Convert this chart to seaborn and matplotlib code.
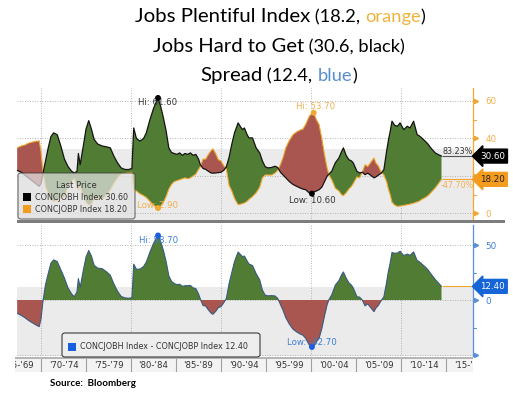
import numpy as np
import pandas as pd
import matplotlib
matplotlib.use("Agg")
import matplotlib.pyplot as plt
import seaborn as sns
from matplotlib.patches import FancyBboxPatch, Rectangle
import matplotlib.transforms as mtransforms

# ---------------- data ----------------
years = [1967.35, 1967.8, 1968.2, 1968.6, 1969.0, 1969.4, 1969.8, 1970.0, 1970.2, 1970.5,
         1970.8, 1971.1, 1971.4, 1971.8, 1972.2, 1972.6, 1973.0, 1973.4, 1973.7, 1974.0,
         1974.15, 1974.35, 1974.7, 1975.0, 1975.3, 1975.6, 1975.9, 1976.3, 1976.8, 1977.3,
         1977.7, 1978.1, 1978.5, 1978.9, 1979.3, 1979.7, 1980.1, 1980.3, 1980.6, 1981.0,
         1981.4, 1981.7, 1982.1, 1982.5, 1983.0, 1983.3, 1983.6, 1983.9, 1984.2, 1984.5,
         1984.8, 1985.1, 1985.4, 1985.7, 1986.0, 1986.3, 1986.6, 1986.9, 1987.2, 1987.5,
         1987.7, 1988.0, 1988.3, 1988.6, 1988.9, 1989.1, 1989.4, 1989.7, 1990.0, 1990.3,
         1990.6, 1990.9, 1991.2, 1991.5, 1991.9, 1992.2, 1992.4, 1992.6, 1992.9, 1993.1,
         1993.5, 1993.9, 1994.3, 1994.6, 1994.9, 1995.2, 1995.6, 1996.0, 1996.3, 1996.6,
         1996.9, 1997.2, 1997.6, 1998.0, 1998.4, 1998.8, 1999.1, 1999.4, 1999.8, 2000.1,
         2000.3, 2000.6, 2000.9, 2001.2, 2001.5, 2001.8, 2002.0, 2002.3, 2002.7, 2003.1,
         2003.4, 2003.6, 2003.9, 2004.2, 2004.5, 2004.7, 2005.1, 2005.4, 2005.7, 2006.0,
         2006.3, 2006.6, 2007.0, 2007.2, 2007.5, 2007.8, 2008.1, 2008.4, 2008.6, 2008.8,
         2009.0, 2009.3, 2009.6, 2009.9, 2010.3, 2010.7, 2011.0, 2011.4, 2011.8, 2012.0,
         2012.3, 2012.7, 2013.0, 2013.3, 2013.8, 2014.1, 2014.5]

jobs_hard = [23.0, 22.0, 20.5, 19.0, 17.5, 16.0, 14.5, 16.0, 21.0, 28.0,
             35.0, 41.0, 43.0, 42.0, 36.0, 29.0, 25.0, 22.5, 21.6, 22.5,
             32.0, 26.0, 36.0, 45.0, 49.5, 45.0, 39.5, 37.0, 36.0, 35.5,
             35.0, 30.5, 27.0, 24.3, 23.5, 23.4, 24.0, 45.6, 40.0, 38.6,
             40.0, 43.0, 50.0, 56.0, 61.6, 57.0, 51.0, 44.0, 35.0, 32.5,
             32.0, 31.5, 32.3, 31.0, 32.0, 31.5, 32.3, 31.0, 31.5, 29.0,
             26.0, 24.0, 23.5, 22.5, 21.6, 21.5, 21.6, 21.8, 22.0, 23.0,
             25.0, 30.0, 37.0, 43.0, 48.3, 46.0, 44.7, 45.6, 42.0, 40.3,
             40.3, 35.0, 32.3, 28.0, 25.0, 24.3, 24.5, 25.2, 24.5, 22.0,
             20.5, 19.0, 17.0, 15.5, 14.5, 13.6, 13.0, 12.7, 11.0, 10.6,
             11.5, 12.0, 12.7, 14.0, 17.0, 20.0, 21.0, 22.5, 27.0, 29.6,
             33.0, 35.0, 31.0, 28.7, 28.0, 26.9, 22.5, 21.6, 22.0, 20.7,
             21.5, 20.5, 19.0, 19.5, 20.5, 21.5, 23.4, 33.2, 39.0, 43.8,
             49.2, 47.0, 46.5, 48.3, 44.7, 46.5, 45.6, 49.2, 42.0, 41.5,
             40.3, 38.5, 37.0, 35.0, 32.3, 31.5, 30.6]

jobs_plentiful = [35.0, 36.0, 36.5, 37.5, 38.0, 38.5, 38.7, 33.0, 23.0, 14.0,
                  11.0, 7.5, 6.5, 7.0, 8.5, 9.0, 14.0, 17.0, 18.6, 15.0,
                  12.5, 14.5, 9.0, 6.0, 4.5, 5.0, 8.0, 8.0, 7.5, 10.0,
                  12.5, 16.0, 19.0, 21.0, 21.5, 21.8, 22.0, 13.0, 12.0, 10.5,
                  9.5, 8.5, 6.5, 4.5, 2.9, 4.0, 6.0, 9.0, 13.0, 15.5,
                  17.0, 17.5, 18.0, 18.5, 19.0, 18.5, 19.0, 20.0, 21.0, 23.5,
                  25.0, 29.0, 29.0, 31.5, 33.5, 34.5, 32.0, 28.7, 28.0, 25.5,
                  23.5, 15.0, 12.0, 8.0, 4.7, 5.0, 5.3, 5.6, 6.5, 7.5,
                  9.0, 11.0, 14.0, 19.0, 20.5, 20.5, 20.5, 21.5, 23.0, 26.0,
                  30.0, 35.0, 39.0, 42.0, 43.5, 44.5, 45.0, 47.4, 51.8, 53.3,
                  53.7, 50.0, 47.4, 40.0, 31.4, 24.0, 20.5, 18.0, 13.5, 12.0,
                  10.0, 9.5, 11.0, 13.0, 14.5, 16.0, 19.5, 19.0, 22.0, 26.0,
                  25.0, 27.0, 29.6, 27.0, 25.2, 22.0, 20.5, 17.0, 13.0, 10.0,
                  6.0, 4.5, 3.8, 4.0, 4.3, 4.7, 5.0, 5.5, 6.2, 6.5,
                  7.5, 8.5, 9.5, 11.0, 13.6, 15.5, 18.2]

period_labels = ["'65-'69", "'70-'74", "'75-'79", "'80-'84", "'85-'89", "'90-'94",
                 "'95-'99", "'00-'04", "'05-'09", "'10-'14", "'15-'19"]
period_starts = [1965, 1970, 1975, 1980, 1985, 1990, 1995, 2000, 2005, 2010, 2015]

top_pct_h = "83.23%"
top_pct_p = "-47.70%"

df = pd.DataFrame({"year": years, "hard": jobs_hard, "plentiful": jobs_plentiful})
df["spread"] = df["hard"] - df["plentiful"]   # CONCJOBH Index - CONCJOBP Index

# ---------------- style ----------------
sns.set_theme(style="white")
plt.rcParams["font.family"] = ["DejaVu Sans"]
TITLE_FONT = ["Lato", "DejaVu Sans"]

GREEN = "#517c33"
RED = "#a8564f"
BAND = "#ebebeb"
ORANGE = "#f0a830"
ORANGE_TXT = "#f2b050"
BLUE_TXT = "#3d7fd9"
BLUE_TAG = "#1565d8"
GRID = "#9d9d9d"
DARK = "#333333"

W, HH = 513, 394
fig = plt.figure(figsize=(W / 100, HH / 100), dpi=100)
fig.patch.set_facecolor("white")


def fx(x):
    return x / W


def fy(y):
    return 1 - y / HH


X0, X1 = 1967.33, 2018.0
ax1 = fig.add_axes([fx(17), fy(221), (473 - 17) / W, (221 - 88) / HH])
ax2 = fig.add_axes([fx(17), fy(356), (473 - 17) / W, (356 - 225) / HH])

x = df["year"].to_numpy()
h = df["hard"].to_numpy()
p = df["plentiful"].to_numpy()
s = df["spread"].to_numpy()

for ax in (ax1, ax2):
    ax.set_facecolor("white")
    ax.set_xlim(X0, X1)
    for side in ("top", "left", "bottom"):
        ax.spines[side].set_visible(False)
    ax.set_xticks([])
    ax.set_xlabel("")
    ax.set_ylabel("")
    for yr in (1970, 1980, 1990, 2000, 2010):
        ax.axvline(yr, color=GRID, lw=0.6, ls=(0, (1, 2)), zorder=1)

# ---- top panel ----
ax1.set_ylim(-4.0, 66.9)
ax1.axhspan(-4.0, 34.5, color=BAND, lw=0, zorder=0)
for v in (0, 20, 40, 60):
    ax1.axhline(v, color=GRID, lw=0.6, ls=(0, (1, 2)), zorder=1)
ax1.fill_between(x, h, p, where=h >= p, interpolate=True, color=GREEN, lw=0, zorder=2)
ax1.fill_between(x, h, p, where=h < p, interpolate=True, color=RED, lw=0, zorder=2)
sns.lineplot(x=x, y=p, ax=ax1, color=ORANGE, lw=0.8, zorder=3, legend=False)
sns.lineplot(x=x, y=h, ax=ax1, color="#141414", lw=0.9, zorder=4, legend=False)
ax1.hlines(h[-1], x[-1], X1, color="#555555", lw=0.8, zorder=3)
ax1.hlines(p[-1], x[-1], X1, color=ORANGE, lw=0.8, zorder=3)
ax1.text(2016.3, h[-1] + 2.4, top_pct_h, fontsize=5.8, color=DARK, ha="center", va="center", zorder=5)
ax1.text(2016.2, p[-1] - 3.2, top_pct_p, fontsize=5.8, color=ORANGE_TXT, ha="center", va="center", zorder=5)

# ---- bottom panel ----
ax2.set_ylim(-50.9, 68.2)
ax2.axhspan(-50.9, 12.0, color=BAND, lw=0, zorder=0)
for v in (-50, 0, 50):
    ax2.axhline(v, color=GRID, lw=0.6, ls=(0, (1, 2)), zorder=1)
ax2.fill_between(x, s, 0, where=s >= 0, interpolate=True, color=GREEN, lw=0, zorder=2)
ax2.fill_between(x, s, 0, where=s < 0, interpolate=True, color=RED, lw=0, zorder=2)
sns.lineplot(x=x, y=s, ax=ax2, color="#3a5a80", lw=0.8, zorder=3, legend=False)
ax2.hlines(s[-1], x[-1], X1, color=ORANGE, lw=0.8, zorder=3)

# ---- right axes ----
def right_axis(ax, color, majors, labels, minors, ylabel_color):
    ax.spines["right"].set_visible(True)
    ax.spines["right"].set_color(color)
    ax.spines["right"].set_linewidth(0.9)
    ax.yaxis.tick_right()
    ax.set_yticks(majors)
    ax.set_yticklabels(labels)
    ax.tick_params(axis="y", length=0, pad=9, labelsize=6.3, labelcolor=ylabel_color)
    tr = mtransforms.blended_transform_factory(ax.transAxes, ax.transData)
    ax.plot([1.007] * len(majors), majors, ls="none", marker=">", ms=3.0, color=color,
            transform=tr, clip_on=False, zorder=6)
    for m in minors:
        ax.plot([1.0, 1.006], [m, m], color=color, lw=0.8, transform=tr, clip_on=False)


right_axis(ax1, ORANGE, [0, 20, 40, 60], ["0", "", "40", "60"], [10, 30, 50], ORANGE_TXT)
right_axis(ax2, "#5b8fd8", [-50, 0, 50], ["", "0", "50"], [-25, 25], BLUE_TXT)


def tag(ax, y, text, fc, tc):
    ax.annotate(text, xy=(1, y), xycoords=("axes fraction", "data"), xytext=(7, 0),
                textcoords="offset pixels", ha="left", va="center", fontsize=6.3, color=tc,
                bbox=dict(boxstyle="larrow,pad=0.28", fc=fc, ec=fc), annotation_clip=False, zorder=10)


tag(ax1, h[-1], f"{h[-1]:.2f}", "#000000", "white")
tag(ax1, p[-1], f"{p[-1]:.2f}", "#f39c1e", "#222222")
tag(ax2, s[-1], f"{s[-1]:.2f}", BLUE_TAG, "white")

# ---- hi / low markers ----
def mark(ax, xv, yv, text, dcol, tcol, off):
    sns.scatterplot(x=[xv], y=[yv], ax=ax, color=dcol, s=18, zorder=8, edgecolor="none", legend=False)
    ax.annotate(text, xy=(xv, yv), xytext=off, textcoords="offset pixels", ha="left", va="center",
                fontsize=6.2, color=tcol, zorder=7, annotation_clip=False)


ih, ip, ilh, isx, isn = h.argmax(), p.argmin(), h.argmin(), s.argmax(), s.argmin()
ipx = p.argmax()
mark(ax1, x[ih], h[ih], f"Hi: {h[ih]:.2f}", "#000000", DARK, (-20, -5))
mark(ax1, x[ip], p[ip], f"Low: {p[ip]:.2f}", ORANGE, ORANGE_TXT, (-21, 3))
mark(ax1, x[ipx], p[ipx], f"Hi: {p[ipx]:.2f}", ORANGE, ORANGE_TXT, (-18, 6))
mark(ax1, x[ilh], h[ilh], f"Low: {h[ilh]:.2f}", "#000000", DARK, (-23, -7))
mark(ax2, x[isx], s[isx], f"Hi: {s[isx]:.2f}", "#1a5fe0", BLUE_TXT, (-19, -5))
mark(ax2, x[isn], s[isn], f"Low: {s[isn]:.2f}", "#1a5fe0", BLUE_TXT, (-25, 4))

# ---- panel separator ----
fig.add_artist(Rectangle((fx(17), fy(223)), (505 - 17) / W, 3 / HH, transform=fig.transFigure,
                         fc="#7d7d7d", ec="none", zorder=3))

# ---- legends ----
fig.add_artist(FancyBboxPatch((fx(18), fy(219)), (135 - 18) / W, (219 - 173) / HH,
                              boxstyle="round,pad=0,rounding_size=0.006", transform=fig.transFigure,
                              fc="#e4e4e4", ec="#3a3a3a", lw=0.8, alpha=0.72, zorder=4))
fig.text(fx(76), fy(185.5), "Last Price", fontsize=6.0, color=DARK, ha="center", va="center", zorder=5)
fig.add_artist(Rectangle((fx(23), fy(201)), 8 / W, 8 / HH, transform=fig.transFigure, fc="black", ec="none", zorder=5))
fig.text(fx(35), fy(197), f"CONCJOBH Index {h[-1]:.2f}", fontsize=5.8, color=DARK, ha="left", va="center", zorder=5)
fig.add_artist(Rectangle((fx(23), fy(213)), 8 / W, 8 / HH, transform=fig.transFigure, fc="#f39c1e", ec="none", zorder=5))
fig.text(fx(35), fy(209), f"CONCJOBP Index {p[-1]:.2f}", fontsize=5.8, color=DARK, ha="left", va="center", zorder=5)

fig.add_artist(FancyBboxPatch((fx(62), fy(357)), (260 - 62) / W, (357 - 333) / HH,
                              boxstyle="round,pad=0,rounding_size=0.006", transform=fig.transFigure,
                              fc="#eeeeee", ec="#3a3a3a", lw=0.8, zorder=4))
fig.add_artist(Rectangle((fx(68), fy(350.5)), 8 / W, 8 / HH, transform=fig.transFigure, fc="#1a5fe0", ec="none", zorder=5))
fig.text(fx(80), fy(346.5), f"CONCJOBH Index - CONCJOBP Index {s[-1]:.2f}", fontsize=5.8, color=DARK,
         ha="left", va="center", zorder=5)

# ---- period band ----
axb = fig.add_axes([fx(15), fy(372), (473 - 15) / W, (372 - 358) / HH])
axb.set_facecolor("#f3f3f3")
axb.set_xlim(1967.11, 2018.0)
axb.set_ylim(0, 1)
axb.set_xticks([]); axb.set_yticks([])
for sp in axb.spines.values():
    sp.set_visible(False)
for st, lab in zip(period_starts, period_labels):
    axb.text(st + 2.5, 0.5, lab, ha="center", va="center", fontsize=6.1, color=DARK, clip_on=True)
    if st > 1965:
        axb.axvline(st, color="#a0a0a0", lw=0.8)
fig.add_artist(Rectangle((fx(15), fy(358.5)), (473 - 15) / W, 1.2 / HH, transform=fig.transFigure,
                         fc="#b5b5b5", ec="none", zorder=3))

# ---- title (pieces of different colour/size) ----
fig.canvas.draw()
renderer = fig.canvas.get_renderer()


def title_line(pieces, cx, baseline, target_w):
    def measure(base):
        ws = []
        for t, c, rs in pieces:
            tt = fig.text(0, 0, t, fontsize=base * rs, family=TITLE_FONT)
            ws.append(tt.get_window_extent(renderer).width)
            tt.remove()
        return ws
    base = 13.0
    ws = measure(base)
    base *= target_w / sum(ws)
    ws = measure(base)
    xx = cx - sum(ws) / 2
    for (t, c, rs), w in zip(pieces, ws):
        fig.text(fx(xx), fy(baseline), t, fontsize=base * rs, color=c, family=TITLE_FONT,
                 ha="left", va="baseline")
        xx += w


SMALL = 0.9
title_line([("Jobs Plentiful Index", "black", 1.0), (" (18.2, ", "black", SMALL),
            ("orange", "#f0b43c", SMALL), (")", "black", SMALL)], 280, 22, 290)
title_line([("Jobs Hard to Get", "black", 1.0), (" (30.6, black)", "black", SMALL)], 279, 52, 252)
title_line([("Spread", "black", 1.0), (" (12.4, ", "black", SMALL),
            ("blue", "#5a8ed0", SMALL), (")", "black", SMALL)], 278.5, 81, 157)

fig.text(fx(50), fy(384), "Source:  Bloomberg", fontsize=7.0, fontweight="bold", family=TITLE_FONT,
         color="black", ha="left", va="center")

fig.savefig("out.png", dpi=100)
